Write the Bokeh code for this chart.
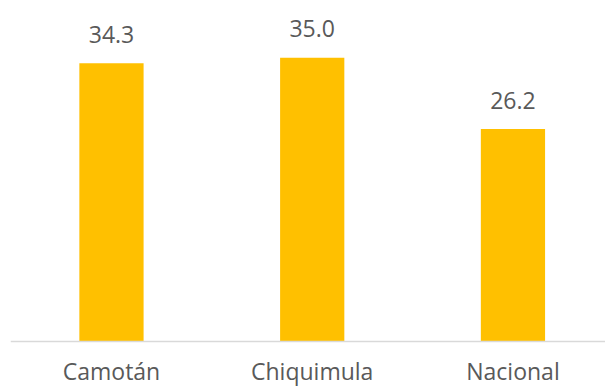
from bokeh.plotting import figure
from bokeh.models import Range1d, ColumnDataSource, Span
from bokeh.core.properties import value
from bokeh.embed import file_html
from bokeh.resources import INLINE

categories = ["Camotán", "Chiquimula", "Nacional"]
values = [34.3, 35.0, 26.2]
labels = ["34.3", "35.0", "26.2"]

xs = list(range(len(categories)))
src = ColumnDataSource(dict(x=xs, top=values, label=labels,
                            cat=categories, zero=[0] * len(xs)))

p = figure(width=605, height=388, output_backend="svg", toolbar_location=None,
           x_range=Range1d(-0.503, 2.461), y_range=Range1d(-5.795, 42.05),
           min_border_left=10, min_border_right=0, min_border_top=0, min_border_bottom=0)
p.outline_line_color = None
p.background_fill_color = "white"
p.border_fill_color = "white"
p.xgrid.visible = False
p.ygrid.visible = False
p.xaxis.visible = False
p.yaxis.visible = False

p.vbar(x="x", top="top", width=0.32, bottom=0, source=src,
       fill_color="#FFC000", line_color=None)

p.add_layout(Span(location=0, dimension="width", line_color="#d9d9d9", line_width=1.5))

p.text(x="x", y="top", text="label", source=src, text_align="center",
       text_baseline="alphabetic", y_offset=-29, text_color="#595959",
       text_font=value("Open Sans"), text_font_size="23px")

p.text(x="x", y="zero", text="cat", source=src, text_align="center",
       text_baseline="alphabetic", y_offset=29, text_color="#595959",
       text_font=value("Open Sans"), text_font_size="23px")

open("out.html", "w").write(file_html(p, INLINE))
